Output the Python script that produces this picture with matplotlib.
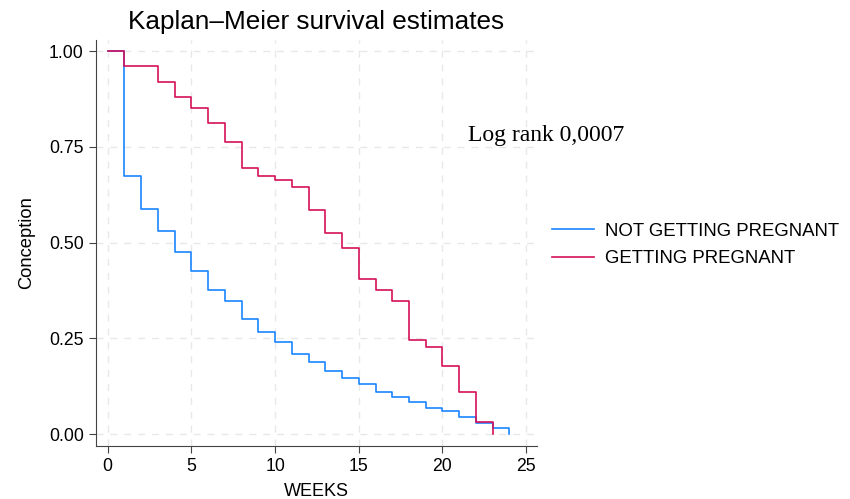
import matplotlib
matplotlib.use('Agg')
import matplotlib.pyplot as plt

plt.rcParams['font.family'] = ['Liberation Sans', 'DejaVu Sans']

# survival estimates
weeks_not = [0, 1, 2, 3, 4, 5, 6, 7, 8, 9, 10, 11, 12, 13, 14, 15, 16, 17, 18, 19, 20, 21, 22, 23, 24]
surv_not = [1.0, 0.675, 0.588, 0.529, 0.475, 0.426, 0.376, 0.347, 0.300, 0.266, 0.240, 0.210, 0.188,
            0.164, 0.147, 0.132, 0.110, 0.097, 0.083, 0.069, 0.060, 0.045, 0.028, 0.015, 0.0]

weeks_preg = [0, 1, 3, 4, 5, 6, 7, 8, 9, 10, 11, 12, 13, 14, 15, 16, 17, 18, 19, 20, 21, 22, 23]
surv_preg = [1.0, 0.96, 0.92, 0.88, 0.851, 0.811, 0.762, 0.694, 0.674, 0.663, 0.644, 0.584, 0.526,
             0.485, 0.406, 0.377, 0.347, 0.247, 0.228, 0.178, 0.109, 0.031, 0.0]

labels = ["NOT GETTING PREGNANT", "GETTING PREGNANT"]
xticks = [0, 5, 10, 15, 20, 25]
yticks = [0.0, 0.25, 0.5, 0.75, 1.0]

fig = plt.figure(figsize=(8.5, 4.99), dpi=100)
ax = fig.add_axes([0.1125, 0.1062, 0.5195, 0.8138])

ax.step(weeks_not, surv_not, where='post', color='#1A85FF', lw=1.2, label=labels[0])
ax.step(weeks_preg, surv_preg, where='post', color='#D41159', lw=1.2, label=labels[1])

ax.set_xlim(-0.72, 25.66)
ax.set_ylim(-0.031, 1.029)
ax.set_xticks(xticks)
ax.set_yticks(yticks)
ax.set_yticklabels(["{:.2f}".format(v) for v in yticks])
ax.tick_params(labelsize=12.7, length=5, color='#444444')
ax.grid(True, color='#e8e8e8', linestyle=(0, (5, 5)), lw=1)
ax.set_axisbelow(True)

for s in ['top', 'right']:
    ax.spines[s].set_visible(False)
for s in ['left', 'bottom']:
    ax.spines[s].set_color('#444444')

ax.set_xlabel("WEEKS", fontsize=13, labelpad=6)
ax.set_ylabel("Conception", fontsize=13.2, labelpad=10)
fig.text(0.372, 0.955, "Kaplan\u2013Meier survival estimates", fontsize=18.8, ha='center', va='center')

ax.text(21.55, 0.78, "Log rank 0,0007", family='Liberation Serif', fontsize=17,
        va='center', ha='left', clip_on=False)

ax.legend(loc='center left', bbox_to_anchor=(1.0, 0.495), frameon=False, fontsize=13.4,
          handlelength=2.25, handletextpad=0.6, labelspacing=0.55, borderaxespad=0.4)

fig.savefig("out.png", dpi=100)
